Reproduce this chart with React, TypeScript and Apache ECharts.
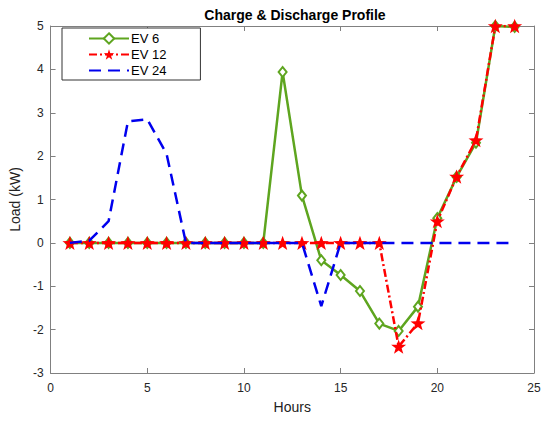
import React, { useEffect, useRef } from "react";
import * as echarts from "echarts";

const hours = [1, 2, 3, 4, 5, 6, 7, 8, 9, 10, 11, 12, 13, 14, 15, 16, 17, 18, 19, 20, 21, 22, 23, 24];
const ev6 = [0, 0, 0, 0, 0, 0, 0, 0, 0, 0, 0, 3.94, 1.09, -0.4, -0.74, -1.11, -1.86, -2.03, -1.47, 0.57, 1.52, 2.31, 5.0, 4.98];
const ev12 = [0, 0, 0, 0, 0, 0, 0, 0, 0, 0, 0, 0, 0, 0, 0, 0, 0, -2.39, -1.85, 0.5, 1.53, 2.37, 5.0, 5.0];
const ev24 = [0, 0.05, 0.5, 2.8, 2.85, 2.05, 0, 0, 0, 0, 0, 0, 0, -1.46, 0, 0, 0, 0, 0, 0, 0, 0, 0, 0];

const STAR =
  "path://M0,-10 L2.35,-3.24 L9.51,-3.09 L3.8,1.24 L5.88,8.09 L0,4 L-5.88,8.09 L-3.8,1.24 L-9.51,-3.09 L-2.35,-3.24 Z";

const pairs = (ys: number[]) => hours.map((h, i) => [h, ys[i]]);

export default function App() {
  const ref = useRef<HTMLDivElement>(null);
  useEffect(() => {
    const chart = echarts.init(ref.current!, null, { renderer: "svg" });
    const axisCommon = {
      type: "value" as const,
      axisLine: { show: true, onZero: false, lineStyle: { color: "#808080", width: 1 } },
      axisTick: { show: true, inside: true, length: 5, lineStyle: { color: "#808080" } },
      splitLine: { show: false },
    };
    const font = "Liberation Sans, Arial, sans-serif";
    chart.setOption({
      animation: false,
      backgroundColor: "#ffffff",
      title: {
        text: "Charge & Discharge Profile",
        left: 290,
        textAlign: "center",
        top: 3,
        textStyle: { fontFamily: font, fontSize: 14, fontWeight: "bold", color: "#000" },
      },
      grid: { left: 46, right: 16, top: 26, bottom: 49 },
      legend: {
        orient: "vertical",
        left: 62,
        top: 28,
        padding: [4, 34, 3, 26],
        itemGap: 3,
        itemWidth: 40,
        itemHeight: 13,
        borderColor: "#333",
        borderWidth: 1,
        borderRadius: 0,
        backgroundColor: "#fff",
        textStyle: { fontFamily: font, fontSize: 13, color: "#000", padding: [0, 0, 0, -3] },
        data: [
          { name: "EV 6" },
          { name: "EV 12" },
          { name: "EV 24", itemStyle: { color: "rgba(0,0,0,0)", borderWidth: 0, opacity: 0 } },
        ],
      },
      xAxis: [
        {
          ...axisCommon,
          min: 0,
          max: 25,
          interval: 5,
          name: "Hours",
          nameLocation: "middle",
          nameGap: 27,
          nameTextStyle: { fontFamily: font, fontSize: 14, color: "#222" },
          axisLabel: { fontFamily: font, fontSize: 12, color: "#262626", margin: 9 },
        },
        {
          ...axisCommon,
          position: "top",
          min: 0,
          max: 25,
          interval: 5,
          axisLabel: { show: false },
        },
      ],
      yAxis: [
        {
          ...axisCommon,
          min: -3,
          max: 5,
          interval: 1,
          name: "Load (kW)",
          nameLocation: "middle",
          nameGap: 26,
          nameTextStyle: { fontFamily: font, fontSize: 14, color: "#222" },
          axisLabel: { fontFamily: font, fontSize: 12, color: "#262626", margin: 7 },
        },
        {
          ...axisCommon,
          position: "right",
          min: -3,
          max: 5,
          interval: 1,
          axisLabel: { show: false },
        },
      ],
      series: [
        {
          name: "EV 6",
          type: "line",
          data: pairs(ev6),
          symbol: "diamond",
          symbolSize: [8, 10],
          showAllSymbol: true,
          lineStyle: { color: "#5ea51f", width: 2.5, type: "solid" },
          itemStyle: { color: "#ffffff", borderColor: "#5ea51f", borderWidth: 2 },
          z: 2,
        },
        {
          name: "EV 12",
          type: "line",
          data: pairs(ev12),
          symbol: STAR,
          symbolSize: 15,
          symbolKeepAspect: true,
          showAllSymbol: true,
          lineStyle: { color: "#ff0000", width: 2.5, type: [8, 3, 2, 3] },
          itemStyle: { color: "#ff0000", borderWidth: 0 },
          z: 3,
        },
        {
          name: "EV 24",
          type: "line",
          data: pairs(ev24),
          symbol: "none",
          lineStyle: { color: "#0000ee", width: 2.5, type: [12, 7] },
          itemStyle: { color: "#0000ee" },
          z: 4,
        },
      ],
    });
    return () => chart.dispose();
  }, []);
  return <div ref={ref} style={{ width: 550, height: 422, position: "absolute", left: 0, top: 0 }} />;
}
